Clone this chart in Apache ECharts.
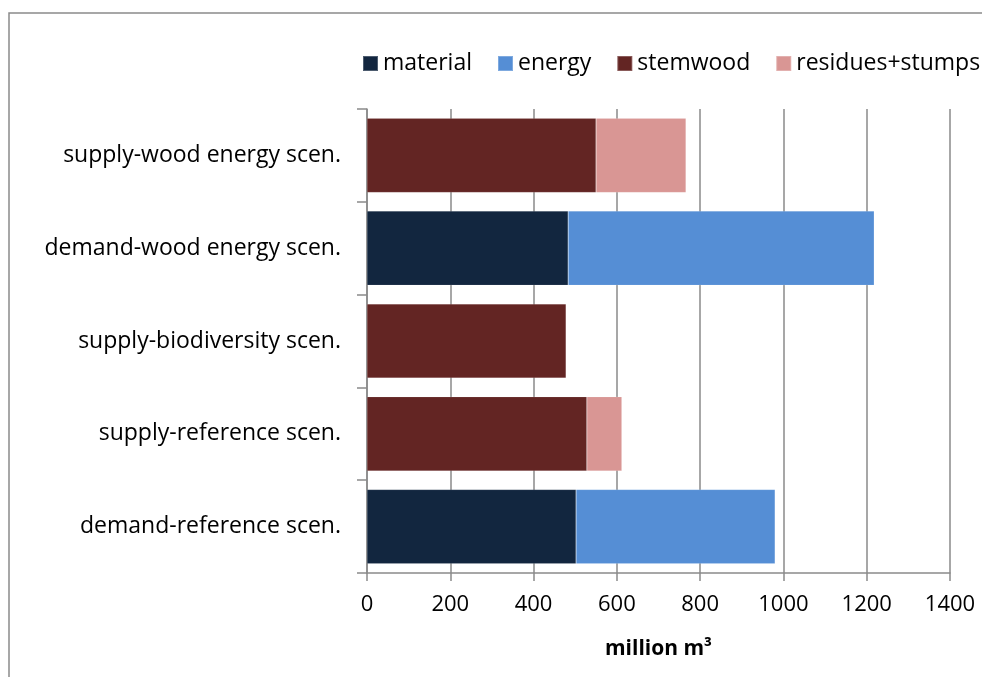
<!DOCTYPE html>
<html><head><meta charset="utf-8">
<script src="https://cdn.jsdelivr.net/npm/echarts@6/dist/echarts.min.js"></script>
<style>html,body{margin:0;padding:0;background:#fff}#c{width:982px;height:677px}</style>
</head><body><div id="c"></div>
<script>
const categories = ['demand-reference scen.', 'supply-reference scen.', 'supply-biodiversity scen.', 'demand-wood energy scen.', 'supply-wood energy scen.'];
const material = [502, '-', '-', 483, '-'];
const energy = [478, '-', '-', 735, '-'];
const stemwood = ['-', 528, 478, '-', 550];
const residues = ['-', 84, '-', '-', 216];
const xTicks = [0, 200, 400, 600, 800, 1000, 1200, 1400];

const FONT = 'Open Sans';
const chart = echarts.init(document.getElementById('c'));
function s(name, data, color) {
  return { name, type: 'bar', stack: 'total', data, barWidth: '80%',
    itemStyle: { color, borderColor: 'rgba(255,255,255,0.25)', borderWidth: 0.5 } };
}
chart.setOption({
  animation: false,
  textStyle: { fontFamily: FONT },
  graphic: [{ type: 'rect', shape: { x: 9, y: 13, width: 1000, height: 700 },
    style: { fill: 'none', stroke: '#8a8a8a', lineWidth: 1.5 }, z: -1 }],
  legend: {
    left: 357, top: 47, width: 680, itemWidth: 15, itemHeight: 15, itemGap: 25, icon: 'rect',
    textStyle: { fontFamily: FONT, fontSize: 23, color: '#000' },
    data: ['material', 'energy', 'stemwood', 'residues+stumps']
  },
  grid: { left: 367, right: 32, top: 109, bottom: 104 },
  xAxis: {
    type: 'value', min: xTicks[0], max: xTicks[xTicks.length - 1], interval: 200,
    name: 'million m³', nameLocation: 'middle', nameGap: 66,
    nameTextStyle: { fontFamily: FONT, fontSize: 21, fontWeight: 'bold', color: '#000' },
    axisLine: { show: true, lineStyle: { color: '#8a8a8a', width: 1.5 } },
    axisTick: { show: true, length: 8, lineStyle: { color: '#8a8a8a', width: 1.5 } },
    axisLabel: { fontFamily: FONT, fontSize: 22, color: '#000', margin: 21, formatter: v => String(v) },
    splitLine: { show: true, lineStyle: { color: '#8a8a8a', width: 1.5 } }
  },
  yAxis: {
    type: 'category', data: categories,
    axisLine: { show: true, lineStyle: { color: '#8a8a8a', width: 1.5 } },
    axisTick: { show: true, length: 10, inside: false, alignWithLabel: false, lineStyle: { color: '#8a8a8a', width: 1.5 } },
    axisLabel: { fontFamily: FONT, fontSize: 23, color: '#000', margin: 26 },
    splitLine: { show: false }
  },
  series: [
    s('material', material, '#12263F'),
    s('energy', energy, '#558ED5'),
    s('stemwood', stemwood, '#632523'),
    s('residues+stumps', residues, '#D99694')
  ]
});
</script></body></html>
